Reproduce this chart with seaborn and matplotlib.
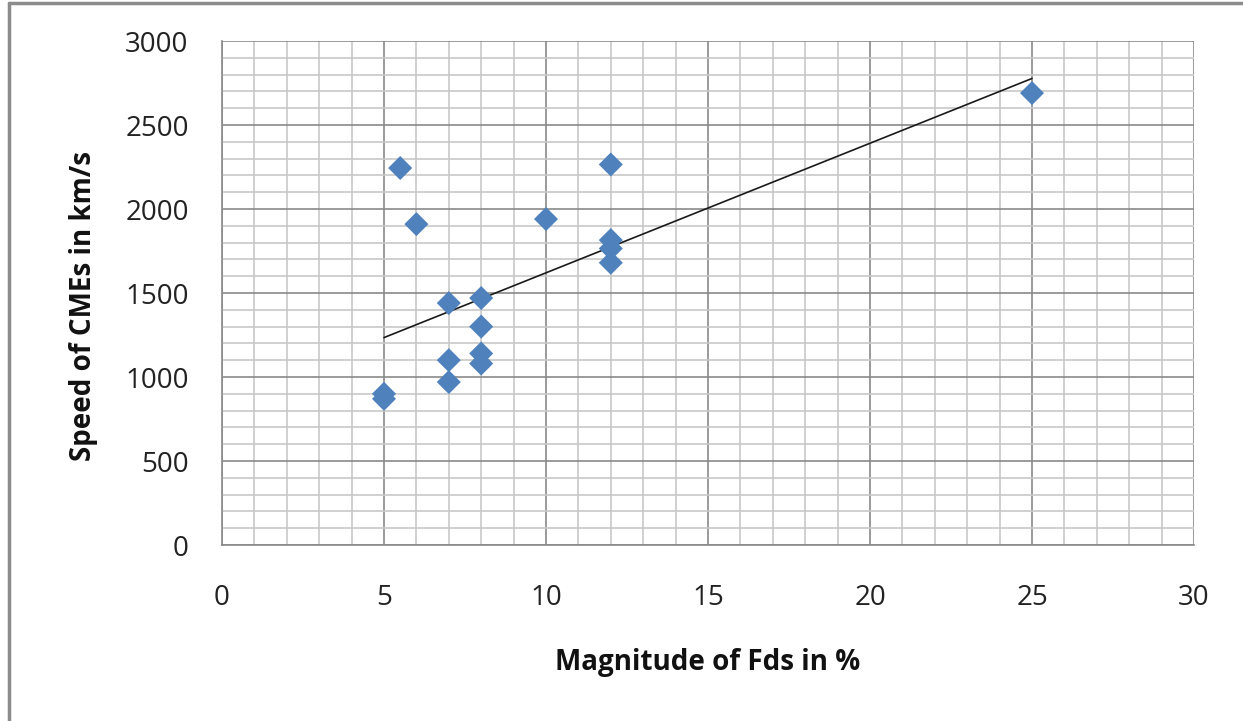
import pandas as pd
import seaborn as sns
import matplotlib
import matplotlib.pyplot as plt
from matplotlib.lines import Line2D
from matplotlib.ticker import MultipleLocator

matplotlib.use("Agg")

# values
fds_magnitude = [5, 5, 5.5, 6, 7, 7, 7, 8, 8, 8, 8, 10, 12, 12, 12, 12, 25]
cme_speed = [900, 870, 2244, 1910, 1440, 1100, 970, 1470, 1300, 1140, 1080, 1940, 2265, 1815, 1765, 1680, 2690]
x_ticks = [0, 5, 10, 15, 20, 25, 30]
y_ticks = [0, 500, 1000, 1500, 2000, 2500, 3000]

df = pd.DataFrame({"fds": fds_magnitude, "speed": cme_speed})

sns.set_style("white")
plt.rcParams["font.family"] = ["Open Sans", "DejaVu Sans"]

fig = plt.figure(figsize=(12.43, 7.21), dpi=100)
ax = fig.add_axes((222 / 1243, 1 - 545 / 721, (1194 - 222) / 1243, (545 - 41) / 721))

sns.regplot(
  data=df,
  x="fds",
  y="speed",
  ax=ax,
  ci=None,
  truncate=True,
  scatter=False,
  line_kws={"color": "#1a1a1a", "linewidth": 1.2, "zorder": 3},
)
sns.scatterplot(
  data=df,
  x="fds",
  y="speed",
  ax=ax,
  marker="D",
  s=150,
  color="#4F81BD",
  edgecolor="none",
  zorder=4,
  legend=False,
)

ax.set_xlim(0, 30)
ax.set_ylim(0, 3000)
ax.set_xticks(x_ticks)
ax.set_yticks(y_ticks)
ax.xaxis.set_minor_locator(MultipleLocator(1))
ax.yaxis.set_minor_locator(MultipleLocator(100))

ax.grid(which="minor", color="#c8c8c8", linewidth=1.2)
ax.grid(which="major", color="#8a8a8a", linewidth=1.2)
ax.set_axisbelow(True)

for side in ("top", "right"):
  ax.spines[side].set_visible(False)
for side in ("left", "bottom"):
  ax.spines[side].set_color("#8a8a8a")
  ax.spines[side].set_linewidth(1.2)

ax.tick_params(which="major", direction="out", length=10, width=1.2, color="#8a8a8a",
               labelsize=20, labelcolor="#222222")
ax.tick_params(which="minor", length=0)
ax.tick_params(axis="x", pad=18)
ax.tick_params(axis="y", pad=14)

ax.set_xlabel("Magnitude of Fds in %", fontsize=20, fontweight="bold", color="#111111")
ax.set_ylabel("Speed of CMEs in km/s", fontsize=20, fontweight="bold", color="#111111")
ax.xaxis.set_label_coords(0.5, -0.205)
ax.yaxis.set_label_coords(-0.128, 0.475)

# outer chart-area border (left and top edges visible in the reference)
fig.add_artist(Line2D([9 / 1243, 9 / 1243], [0, 1 - 3 / 721], transform=fig.transFigure,
                      color="#8c8c8c", linewidth=2.5))
fig.add_artist(Line2D([9 / 1243, 1], [1 - 3 / 721, 1 - 3 / 721], transform=fig.transFigure,
                      color="#8c8c8c", linewidth=2.5))

plt.savefig("out.png", dpi=100)
